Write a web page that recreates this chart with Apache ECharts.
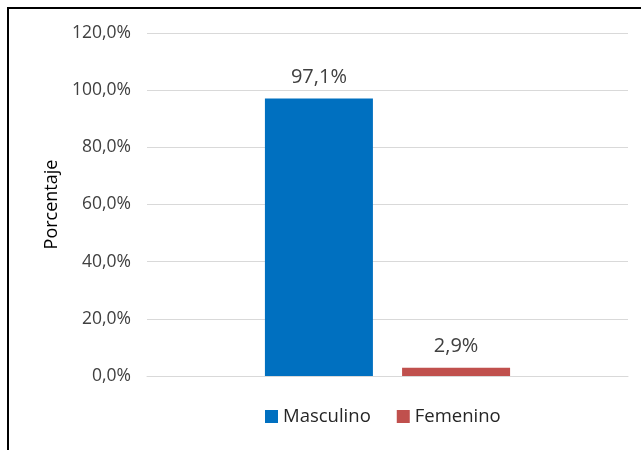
<!DOCTYPE html>
<html>
<head>
<meta charset="utf-8">
<script src="https://cdn.jsdelivr.net/npm/echarts@6/dist/echarts.min.js"></script>
<style>html,body{margin:0;padding:0;background:#fff}#c{width:641px;height:450px}</style>
</head>
<body>
<div id="c"></div>
<script>
const categories = ['Sexo'];
const seriesNames = ['Masculino', 'Femenino'];
const masculino = [97.1];
const femenino = [2.9];
const seriesColors = ['#0070C0', '#C0504D'];
const yTicks = [0, 20, 40, 60, 80, 100, 120];
const yTitle = 'Porcentaje';

const fmt = v => v.toFixed(1).replace('.', ',') + '%';
const font = 'Open Sans';
const chart = echarts.init(document.getElementById('c'));
const labelCfg = {
  show: true, position: 'top', distance: 11, color: '#404040',
  fontFamily: font, fontSize: 20, formatter: p => fmt(p.value)
};
chart.setOption({
  animation: false,
  textStyle: { fontFamily: font },
  graphic: [{
    type: 'rect', shape: { x: 8, y: 8, width: 700, height: 500 },
    style: { fill: 'none', stroke: '#000', lineWidth: 2 }, silent: true
  }],
  grid: { left: 147, right: 13, top: 33, bottom: 74 },
  legend: {
    bottom: 19, left: 260, itemWidth: 13, itemHeight: 13, itemGap: 26,
    icon: 'rect',
    textStyle: { fontFamily: font, fontSize: 18.5, color: '#262626' },
    data: seriesNames
  },
  xAxis: {
    type: 'category', data: categories,
    axisLine: { lineStyle: { color: '#d9d9d9', width: 1 } },
    axisTick: { show: false }, axisLabel: { show: false }
  },
  yAxis: {
    type: 'value', min: yTicks[0], max: yTicks[yTicks.length - 1], interval: 20,
    name: yTitle, nameLocation: 'middle', nameGap: 82,
    nameTextStyle: { fontFamily: font, fontSize: 18, color: '#000' },
    axisLine: { show: false }, axisTick: { show: false },
    axisLabel: { fontFamily: font, fontSize: 17.5, color: '#404040', margin: 16, formatter: v => fmt(v) },
    splitLine: { lineStyle: { color: '#d9d9d9', width: 1 } }
  },
  series: [
    { name: seriesNames[0], type: 'bar', data: masculino, barWidth: 108, barGap: '27%',
      itemStyle: { color: seriesColors[0] }, label: labelCfg },
    { name: seriesNames[1], type: 'bar', data: femenino, barWidth: 108, barGap: '27%',
      itemStyle: { color: seriesColors[1] }, label: labelCfg }
  ]
});
</script>
</body>
</html>
